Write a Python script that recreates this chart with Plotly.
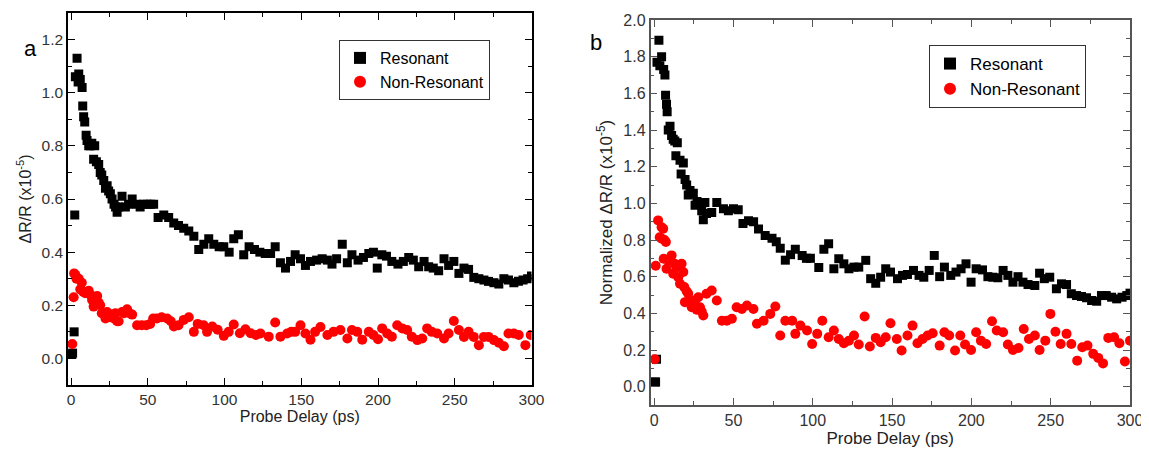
import plotly.graph_objects as go

# ---------------- Panel a data ----------------
a_res_t = [0.5, 1.0, 2.0, 2.4, 2.8, 3.9, 4.6, 5.0, 6.0, 7.2, 7.6, 8.2, 8.9, 9.8, 10.4, 11.5, 12.6, 13.5,
           14.7, 15.4, 16.5, 18.0, 19.0, 20.0, 21.3, 22.4, 23.5, 24.5, 25.6, 26.7, 28.0, 29.0, 30.0, 31.0,
           33.2, 35.4, 37.5, 39.8, 43.0, 45.0, 47.3, 49.5, 51.7, 53.8, 56.7, 60.4, 63.6, 66.9, 70.0, 73.4,
           76.7, 80.0, 83.2, 86.5, 89.7, 93.0, 96.5, 99.5, 103.0, 106.0, 109.0, 112.5, 116.0, 119.5, 123.0,
           126.5, 130.0, 133.0, 136.4, 139.7, 143.0, 146.0, 149.5, 152.7, 156.0, 160.0, 163.6, 167.0, 170.0,
           173.0, 176.7, 180.0, 183.0, 187.0, 190.5, 194.0, 197.0, 199.5, 202.5, 205.5, 209.0, 213.0, 216.5,
           220.0, 223.0, 226.5, 230.0, 233.0, 236.0, 239.5, 243.0, 246.0, 249.4, 252.7, 256.0, 259.0, 262.4,
           265.7, 269.0, 272.0, 275.5, 278.7, 282.0, 285.0, 288.5, 291.5, 294.5, 297.5, 300.0]
a_res_v = [0.015, 0.02, 0.10, 0.54, 1.06, 1.13, 1.04, 1.07, 1.05, 1.02, 0.95, 0.91, 0.89, 0.84, 0.82, 0.80, 0.80, 0.81,
           0.75, 0.80, 0.74, 0.73, 0.70, 0.69, 0.67, 0.64, 0.65, 0.63, 0.62, 0.60, 0.58, 0.57, 0.55, 0.57,
           0.61, 0.57, 0.58, 0.60, 0.58, 0.57, 0.58, 0.58, 0.58, 0.58, 0.53, 0.54, 0.53, 0.51, 0.50, 0.49,
           0.48, 0.46, 0.41, 0.43, 0.45, 0.43, 0.42, 0.42, 0.40, 0.45, 0.465, 0.39, 0.42, 0.41, 0.40,
           0.395, 0.395, 0.42, 0.36, 0.34, 0.365, 0.39, 0.375, 0.35, 0.365, 0.37, 0.375, 0.37, 0.355,
           0.375, 0.43, 0.36, 0.39, 0.37, 0.38, 0.395, 0.40, 0.34, 0.39, 0.385, 0.365, 0.355, 0.365,
           0.38, 0.37, 0.345, 0.365, 0.345, 0.34, 0.33, 0.375, 0.35, 0.365, 0.32, 0.34, 0.335, 0.305,
           0.30, 0.295, 0.29, 0.285, 0.28, 0.30, 0.295, 0.285, 0.29, 0.295, 0.30, 0.31]

a_non_t = [0.8, 1.7, 2.0, 2.8, 3.5, 5.0, 6.0, 7.0, 8.0, 9.3, 10.5, 11.5, 12.6, 13.7, 14.7, 15.8, 17.0, 18.0,
           19.0, 20.0, 21.0, 22.4, 23.5, 24.5, 25.6, 26.7, 28.0, 28.9, 30.0, 31.0, 33.2, 34.5, 36.5, 38.0,
           39.8, 43.0, 46.0, 49.0, 51.5, 53.5, 56.0, 59.0, 62.6, 65.0, 67.0, 70.0, 73.4, 76.7, 80.0, 82.5,
           86.4, 88.6, 92.0, 95.5, 99.5, 102.7, 106.0, 110.0, 113.6, 117.0, 120.5, 123.4, 128.8, 133.0,
           136.4, 140.8, 143.5, 146.0, 149.5, 152.7, 156.0, 159.0, 162.5, 167.0, 171.0, 175.5, 180.0, 183.0,
           186.5, 189.7, 194.0, 197.0, 200.0, 202.7, 206.0, 209.0, 212.5, 215.8, 219.0, 222.0, 225.6, 228.8,
           232.0, 235.0, 238.6, 243.0, 246.0, 249.4, 252.7, 256.0, 259.0, 262.4, 265.7, 269.0, 272.0, 275.5,
           278.7, 282.0, 285.0, 288.5, 291.7, 296.0, 299.5]
a_non_v = [0.054, 0.23, 0.32, 0.315, 0.30, 0.30, 0.26, 0.285, 0.25, 0.245, 0.25, 0.255, 0.24, 0.22, 0.195, 0.21, 0.235, 0.21,
           0.20, 0.17, 0.17, 0.15, 0.175, 0.16, 0.155, 0.165, 0.15, 0.17, 0.14, 0.14, 0.175, 0.17, 0.185, 0.17,
           0.165, 0.125, 0.125, 0.125, 0.13, 0.15, 0.15, 0.155, 0.15, 0.14, 0.12, 0.125, 0.145, 0.155, 0.10, 0.13,
           0.125, 0.10, 0.12, 0.108, 0.085, 0.10, 0.128, 0.095, 0.11, 0.095, 0.088, 0.094, 0.082, 0.135,
           0.082, 0.094, 0.10, 0.10, 0.125, 0.094, 0.07, 0.10, 0.118, 0.088, 0.10, 0.107, 0.075, 0.107,
           0.10, 0.07, 0.10, 0.088, 0.072, 0.113, 0.094, 0.082, 0.125, 0.113, 0.107, 0.082, 0.069, 0.075,
           0.113, 0.10, 0.094, 0.075, 0.094, 0.141, 0.107, 0.081, 0.10, 0.081, 0.05, 0.081, 0.081, 0.069,
           0.059, 0.046, 0.094, 0.094, 0.088, 0.05, 0.088]

# ---------------- Panel b data ----------------
b_res_t = [0.5, 0.9, 1.5, 1.8, 3.0, 3.6, 4.7, 6.0, 6.8, 7.2, 7.8, 8.2, 8.9, 10.0, 11.0, 12.0, 13.0, 13.7,
           14.6, 16.3, 17.0, 18.4, 19.5, 20.5, 21.5, 22.6, 24.7, 25.8, 27.0, 28.9, 30.0, 31.0, 32.0, 33.0,
           36.3, 39.5, 43.7, 46.8, 50.0, 53.0, 56.0, 59.5, 62.7, 65.8, 70.0, 74.3, 77.0, 79.5, 82.7, 86.0,
           89.0, 93.3, 96.0, 98.5, 103.8, 107.0, 110.0, 113.3, 116.4, 119.6, 122.8, 126.0, 129.0, 133.4,
           136.5, 139.7, 142.8, 146.0, 149.0, 153.4, 156.6, 159.7, 163.5, 167.0, 170.0, 173.4, 176.6, 180.0,
           183.0, 187.0, 190.3, 193.5, 196.6, 199.8, 203.0, 207.0, 210.4, 213.5, 216.7, 220.0, 223.0, 226.2,
           229.4, 232.5, 235.7, 240.0, 243.0, 246.0, 249.4, 253.6, 256.8, 260.0, 263.0, 266.3, 269.4, 272.6,
           275.8, 279.0, 282.0, 285.0, 288.4, 291.6, 295.0, 298.0, 300.0]
b_res_v = [0.025, 0.025, 0.15, 1.77, 1.89, 1.75, 1.80, 1.73, 1.70, 1.59, 1.54, 1.50, 1.40, 1.42, 1.37, 1.35, 1.34, 1.26,
           1.33, 1.235, 1.16, 1.22, 1.13, 1.10, 1.045, 1.07, 1.055, 0.99, 1.01, 1.00, 0.96, 0.91, 1.005, 0.945,
           0.95, 1.005, 0.97, 0.96, 0.97, 0.965, 0.89, 0.905, 0.90, 0.86, 0.825, 0.81, 0.79, 0.755, 0.69, 0.72,
           0.75, 0.715, 0.70, 0.70, 0.65, 0.75, 0.78, 0.643, 0.698, 0.67, 0.643, 0.652, 0.652, 0.689,
           0.589, 0.564, 0.597, 0.643, 0.625, 0.589, 0.607, 0.612, 0.634, 0.607, 0.597, 0.634, 0.716, 0.60,
           0.652, 0.607, 0.625, 0.643, 0.67, 0.57, 0.643, 0.637, 0.60, 0.597, 0.594, 0.634, 0.607, 0.57,
           0.60, 0.57, 0.557, 0.552, 0.619, 0.589, 0.597, 0.534, 0.561, 0.557, 0.507, 0.497, 0.492, 0.485,
           0.47, 0.466, 0.497, 0.497, 0.488, 0.479, 0.488, 0.497, 0.51]

b_non_t = [0.4, 1.0, 2.5, 3.5, 4.7, 4.9, 5.7, 6.0, 6.5, 7.4, 7.8, 8.9, 10.0, 11.0, 12.0, 13.0, 14.2, 15.2,
           16.3, 17.3, 18.4, 19.0, 19.4, 20.5, 21.5, 22.5, 23.7, 24.8, 25.8, 26.8, 27.8, 28.9, 30.0, 31.0,
           33.0, 36.3, 39.5, 42.7, 45.8, 49.0, 52.0, 55.3, 58.5, 62.6, 64.8, 69.0, 73.2, 76.4, 79.5, 82.7,
           87.0, 89.0, 92.2, 96.4, 99.6, 102.8, 106.0, 110.0, 113.3, 116.4, 119.6, 122.8, 126.0, 129.0,
           132.7, 136.0, 139.7, 142.8, 146.0, 149.0, 153.0, 156.0, 159.7, 162.9, 166.0, 169.2, 172.4, 175.6,
           180.0, 183.0, 186.0, 189.7, 193.0, 196.0, 199.8, 203.0, 206.0, 209.3, 213.0, 216.0, 220.0, 223.0,
           226.2, 229.7, 233.0, 236.3, 240.0, 243.0, 246.6, 249.8, 253.0, 256.3, 260.0, 263.0, 266.7, 269.9,
           273.2, 276.8, 280.0, 283.0, 286.3, 290.0, 293.3, 296.8, 300.0]
b_non_v = [0.15, 0.66, 0.907, 0.815, 0.87, 0.807, 0.862, 0.698, 0.80, 0.789, 0.643, 0.689, 0.70, 0.716, 0.616, 0.67, 0.652, 0.597,
           0.561, 0.67, 0.625, 0.543, 0.461, 0.52, 0.507, 0.47, 0.433, 0.45, 0.47, 0.42, 0.488, 0.433, 0.41, 0.388,
           0.507, 0.525, 0.47, 0.36, 0.36, 0.37, 0.433, 0.424, 0.443, 0.424, 0.343, 0.36, 0.397, 0.437, 0.279, 0.36,
           0.36, 0.288, 0.333, 0.306, 0.233, 0.288, 0.36, 0.27, 0.306, 0.26, 0.237, 0.251, 0.279, 0.23,
           0.383, 0.219, 0.266, 0.242, 0.27, 0.346, 0.26, 0.197, 0.279, 0.333, 0.237, 0.26, 0.279, 0.291,
           0.224, 0.297, 0.279, 0.197, 0.279, 0.23, 0.20, 0.297, 0.251, 0.233, 0.357, 0.306, 0.297, 0.23,
           0.20, 0.211, 0.315, 0.26, 0.279, 0.20, 0.251, 0.397, 0.30, 0.233, 0.288, 0.233, 0.142, 0.215,
           0.224, 0.179, 0.157, 0.127, 0.266, 0.27, 0.237, 0.137, 0.251]

series_names = ["Resonant", "Non-Resonant"]
panel_labels = ["a", "b"]
x_title = "Probe Delay (ps)"
y_titles = ["ΔR/R (x10<sup>-5</sup>)", "Normalized ΔR/R (x10<sup>-5</sup>)"]

# The page body has an 8px margin, so the figure is drawn 8px in from the top-left.
OFF = 8
W, H = 1149 - OFF, 461 - OFF
FONT = "Liberation Sans, Arial, sans-serif"

fig = go.Figure()

sq = dict(symbol="square", size=9, color="black")
cir = dict(symbol="circle", size=10, color="#ff0000")

fig.add_trace(go.Scatter(x=a_res_t, y=a_res_v, mode="markers", marker=sq, name=series_names[0],
                         xaxis="x", yaxis="y", legend="legend"))
fig.add_trace(go.Scatter(x=a_non_t, y=a_non_v, mode="markers", marker=cir, name=series_names[1],
                         xaxis="x", yaxis="y", legend="legend"))
fig.add_trace(go.Scatter(x=b_res_t, y=b_res_v, mode="markers", marker=sq, name=series_names[0],
                         xaxis="x2", yaxis="y2", legend="legend2"))
fig.add_trace(go.Scatter(x=b_non_t, y=b_non_v, mode="markers", marker=cir, name=series_names[1],
                         xaxis="x2", yaxis="y2", legend="legend2"))


def px_x(p):
    return (p - OFF) / W


def px_y(p):
    return 1 - (p - OFF) / H


def axis_common(linecolor, fsize):
    return dict(showline=True, linecolor=linecolor, linewidth=1.5, mirror="ticks",
                ticks="inside", ticklen=7, tickwidth=1.2, tickcolor=linecolor,
                showgrid=False, zeroline=False,
                tickfont=dict(family=FONT, size=fsize, color="#333333"), automargin=False)


fig.update_layout(
    xaxis=dict(domain=[px_x(68), px_x(531.5)], range=[-2, 300], dtick=50, anchor="y",
               minor=dict(ticks="inside", dtick=25, ticklen=4, tickcolor="black"),
               title=dict(text=x_title, font=dict(family=FONT, size=16, color="#222"), standoff=2),
               **axis_common("black", 15.5)),
    yaxis=dict(domain=[px_y(385), px_y(13)], range=[-0.1, 1.3], dtick=0.2, tickformat=".1f", anchor="x",
               minor=dict(ticks="inside", dtick=0.1, ticklen=4, tickcolor="black"),
               title=dict(text=y_titles[0], font=dict(family=FONT, size=16, color="#222"), standoff=6),
               **axis_common("black", 15.5)),
    xaxis2=dict(domain=[px_x(650.5), px_x(1130)], range=[-2.3, 300], dtick=50, anchor="y2",
                minor=dict(ticks="inside", dtick=25, ticklen=4, tickcolor="#555555"),
                title=dict(text=x_title, font=dict(family=FONT, size=17, color="#222"), standoff=3),
                **axis_common("#555555", 16)),
    yaxis2=dict(domain=[px_y(405), px_y(20)], range=[-0.1, 2.0], dtick=0.2, tickformat=".1f", anchor="x2",
                minor=dict(ticks="inside", dtick=0.1, ticklen=4, tickcolor="#555555"),
                title=dict(text=y_titles[1], font=dict(family=FONT, size=17, color="#222"), standoff=6),
                **axis_common("#555555", 16)),
)

legend_common = dict(bgcolor="white", bordercolor="#333333", borderwidth=1,
                     xanchor="left", yanchor="top", tracegroupgap=0, itemsizing="constant")
fig.update_layout(
    legend=dict(x=px_x(339), y=px_y(40), font=dict(family=FONT, size=16, color="black"), **legend_common),
    legend2=dict(x=px_x(929), y=px_y(45), font=dict(family=FONT, size=17, color="black"), **legend_common),
)

fig.add_annotation(text=panel_labels[0], x=px_x(22), y=px_y(34), xref="paper", yref="paper",
                   showarrow=False, font=dict(family=FONT, size=22, color="black"))
fig.add_annotation(text=panel_labels[1], x=px_x(596), y=px_y(28), xref="paper", yref="paper",
                   showarrow=False, font=dict(family=FONT, size=22, color="black"))

fig.update_layout(width=W, height=H, margin=dict(l=0, r=0, t=0, b=0, autoexpand=False),
                  paper_bgcolor="white", plot_bgcolor="white", showlegend=True)

fig.write_html("out.html")
